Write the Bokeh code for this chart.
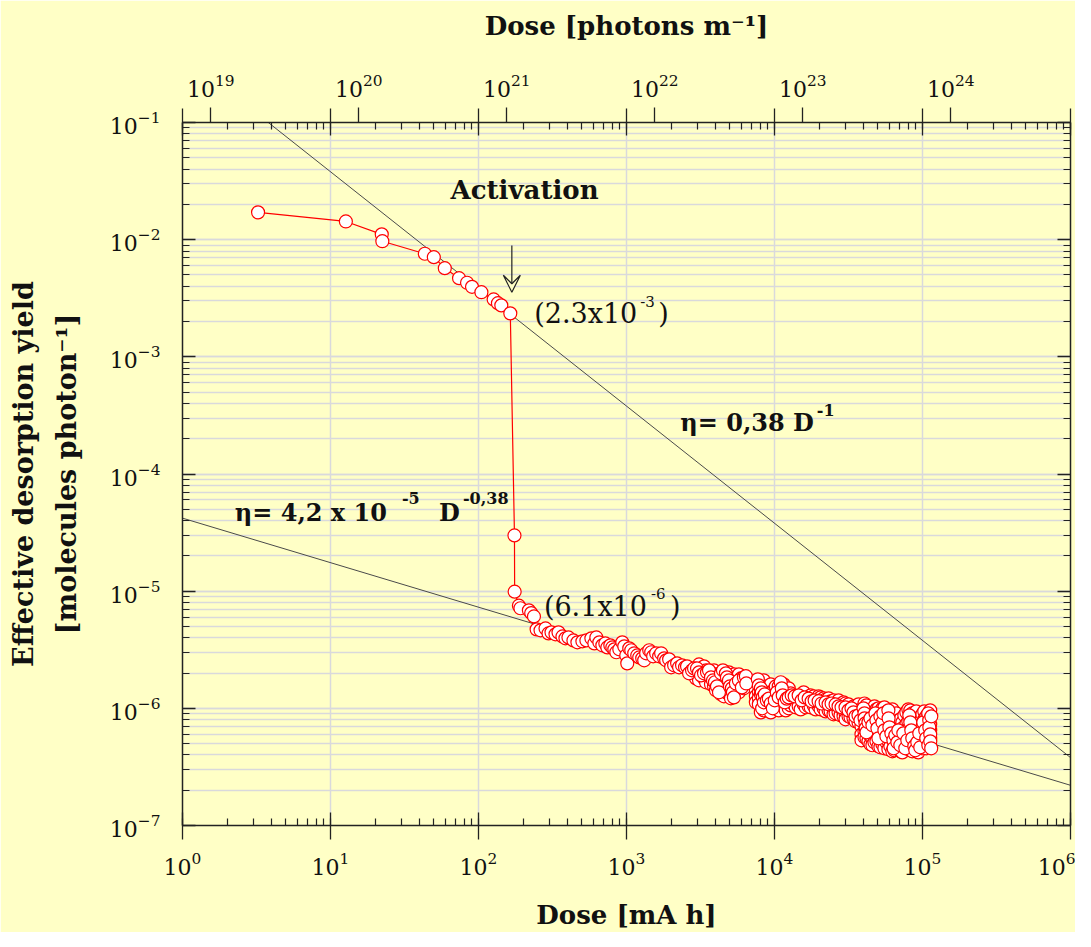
import math
from bokeh.plotting import figure
from bokeh.models import (LogAxis, LogTicker, Range1d, LogScale, Label, Arrow,
                          VeeHead, ColumnDataSource)
from bokeh.embed import file_html
from bokeh.resources import INLINE

# ---------------- data ----------------
# dose in mA h, effective desorption yield in molecules/photon
dose_before = [3.24, 12.7, 22.2, 22.4, 43.4, 49.9, 59.2, 73.9, 83.7, 90.4,
               104.6, 126.6, 135.3, 142.6, 164]
eta_before = [0.0171, 0.0143, 0.0111, 0.0097, 0.00758, 0.00709, 0.00571,
              0.00469, 0.00429, 0.00396, 0.00356, 0.00309, 0.00287, 0.00275,
              0.00235]

dose_after = [175, 175.5, 187.5, 192, 219, 227, 237,
              247, 262.5, 283.7, 297.2, 311.3, 331.3, 347.1, 369.2, 386.8, 405.3,
              437.9, 465.9, 503.5, 535.8, 578.9, 606.5, 625.6, 655.4, 686.8, 719.5,
              742.2, 777.5, 802, 827.3, 853.4, 894, 936.6, 966, 996.4, 1012,
              1044, 1077, 1128, 1182, 1219, 1277, 1317, 1358, 1424, 1469,
              1514, 1586, 1662, 1714, 1796, 1853, 1941, 2002, 2098, 2198,
              2267, 2374, 2487, 2566, 2647, 2772, 2860, 2996, 3091, 3188,
              3340, 3499, 3609, 3723, 3840, 3961, 4086, 4215, 4348, 4484,
              4697, 4770, 4921, 4998, 5155, 5236, 5318, 5486, 5747, 6020,
              6210, 6406, 6450,
              7715, 7836, 8083, 8209, 8250, 8338, 8468, 8600, 8870, 9150,
              9438, 9736, 10042, 10358, 10685, 11022, 11193, 11368, 11726, 12095,
              12477, 13069, 13692, 14569, 15262, 15990, 17013, 17822, 18671, 19866,
              20810, 22143, 23197, 24300, 25857, 27087, 28374, 30192, 31630, 33133,
              34179, 35256, 36934, 38097, 39911, 40534, 40600, 41168, 41300, 41808,
              43128, 44487, 45886, 48072, 48819, 49584, 50360, 51946, 53581, 54419,
              55268, 57007, 58806, 59000, 59723, 61600, 63545, 63800, 65547, 67610,
              68667, 70830, 74201, 76538, 78947, 81433, 82708, 83993, 85309, 87996,
              89373, 92186, 95089, 96577, 101174, 104361, 105983, 109329, 109500, 111035,
              111200, 112773, 112900, 114525, 114700]
eta_after = [2.99e-5, 9.9e-6, 7.52e-6, 7.15e-6, 6.86e-6, 6.50e-6, 6.09e-6,
             4.72e-6, 4.63e-6, 4.81e-6, 4.36e-6, 4.45e-6, 4.28e-6, 4.45e-6, 4.11e-6, 3.96e-6, 4.03e-6,
             3.80e-6, 3.66e-6, 3.73e-6, 3.80e-6, 3.96e-6, 3.58e-6, 4.03e-6, 3.66e-6, 3.45e-6, 3.58e-6,
             3.31e-6, 3.45e-6, 3.31e-6, 3.19e-6, 3.01e-6, 3.19e-6, 3.66e-6, 3.38e-6, 2.83e-6, 2.42e-6,
             3.25e-6, 3.13e-6, 2.95e-6, 2.83e-6, 2.72e-6, 2.67e-6, 2.57e-6, 2.95e-6, 3.13e-6, 3.01e-6,
             2.78e-6, 2.95e-6, 2.78e-6, 2.95e-6, 2.67e-6, 2.57e-6, 2.62e-6, 2.24e-6, 2.33e-6, 2.42e-6,
             2.24e-6, 2.33e-6, 2.24e-6, 2.28e-6, 1.99e-6, 2.11e-6, 2.19e-6, 2.19e-6, 2.03e-6, 1.91e-6,
             1.99e-6, 2.03e-6, 2.11e-6, 1.84e-6, 1.73e-6, 1.67e-6, 1.54e-6, 1.37e-6, 1.99e-6, 2.11e-6,
             1.99e-6, 1.84e-6, 1.73e-6, 1.54e-6, 1.48e-6, 1.37e-6, 1.24e-6, 1.63e-6, 1.73e-6, 1.51e-6,
             1.84e-6, 1.88e-6, 1.63e-6,
             1.77e-6, 1.57e-6, 1.48e-6, 1.37e-6, 1.00e-6, 1.24e-6, 1.125e-6, 1.317e-6, 1.17e-6, 1.21e-6,
             1.10e-6, 1.00e-6, 1.17e-6, 1.37e-6, 1.24e-6, 1.67e-6, 1.48e-6, 1.29e-6, 1.125e-6, 1.21e-6,
             1.24e-6, 1.29e-6, 1.266e-6, 1.29e-6, 1.17e-6, 1.24e-6, 1.21e-6, 1.147e-6, 1.17e-6, 1.15e-6,
             1.10e-6, 1.125e-6, 1.082e-6, 1.10e-6, 1.08e-6, 1.04e-6, 1.02e-6, 1.02e-6, 9.61e-7, 1.00e-6,
             9.24e-7, 8.55e-7, 8.72e-7, 7.90e-7, 1.00e-6, 9.07e-7, 8.22e-7, 7.45e-7, 6.75e-7, 6.24e-7,
             7.60e-7, 8.22e-7, 7.16e-7, 9.07e-7, 7.90e-7, 6.75e-7, 5.55e-7, 8.55e-7, 7.60e-7, 9.07e-7,
             6.49e-7, 5.77e-7, 9.61e-7, 8.22e-7, 6.89e-7, 6.12e-7, 5.34e-7, 4.56e-7, 5.89e-7, 5.13e-7,
             6.49e-7, 4.84e-7, 6.12e-7, 4.56e-7, 5.34e-7, 8.72e-7, 7.60e-7, 6.49e-7, 5.55e-7, 4.74e-7,
             4.38e-7, 5.13e-7, 6.12e-7, 4.65e-7, 7.60e-7, 6.49e-7, 5.55e-7, 9.07e-7, 4.84e-7, 7.90e-7,
             6.89e-7, 6.00e-7, 5.23e-7, 4.56e-7, 8.55e-7]

# further overlapping points of the dense cloud (one row per dose column)
dose_cloud = [
    2950, 2950,
    3091, 3091, 3091,
    3340, 3340,
    3445, 3445,
    3723, 3723,
    3900, 3900, 3900,
    4023, 4023,
    4215, 4215, 4215,
    4348, 4348, 4348,
    4554, 4554, 4554, 4554,
    4697, 4697, 4697,
    4921, 4921, 4921,
    5076, 5076, 5076,
    5318, 5318, 5318,
    5486, 5486,
    5747, 5747, 5747,
    5928, 5928,
    6210, 6210,
    7480, 7480, 7480, 7480,
    7836, 7836, 7836,
    8083, 8083, 8083,
    8468, 8468, 8468, 8468,
    8735, 8735, 8735,
    9150, 9150, 9150, 9150,
    9438, 9438, 9438,
    9888, 9888, 9888,
    10200, 10200, 10200,
    10685, 10685, 10685,
    11022, 11022,
    11546, 11546, 11546, 11546,
    11910, 11910,
    12477, 12477, 12477,
    12870, 12870,
    13482, 13482,
    13907, 13907,
    14569, 14569,
    15028, 15028,
    15744, 15744,
    16240, 16240,
    17013, 17013,
    17549, 17549,
    18384, 18384,
    18963, 18963,
    19866, 19866,
    20492, 20492,
    21467, 21467,
    22143, 22143,
    23197, 23197,
    23928, 23928,
    25067, 25067, 25067,
    25857, 25857,
    27087, 27087,
    27940, 27940,
    29270, 29270, 29270,
    30192, 30192, 30192,
    31630, 31630,
    32627, 32627,
    34179, 34179,
    35256, 35256, 35256,
    36934, 36934, 36934,
    38692, 38692, 38692, 38692,
    40534, 40534, 40534, 40534,
    41808, 41808, 41808,
    43128, 43128, 43128, 43128,
    44487, 44487, 44487, 44487,
    45886, 45886, 45886, 45886,
    47331, 47331, 47331, 47331,
    48819, 48819, 48819, 48819,
    50360, 50360, 50360, 50360,
    51946, 51946, 51946, 51946,
    53581, 53581, 53581, 53581,
    55268, 55268, 55268, 55268,
    57007, 57007, 57007, 57007,
    58806, 58806, 58806, 58806,
    60658, 60658, 60658, 60658,
    62566, 62566, 62566, 62566, 62566,
    64536, 64536, 64536, 64536, 64536,
    66566, 66566, 66566,
    68667, 68667, 68667,
    70830, 70830, 70830, 70830,
    73058, 73058, 73058, 73058,
    75358, 75358, 75358,
    77728, 77728, 77728, 77728,
    80182, 80182, 80182, 80182, 80182,
    82708, 82708, 82708, 82708, 82708,
    85309, 85309, 85309, 85309,
    87996, 87996, 87996, 87996,
    90763, 90763, 90763, 90763,
    93628, 93628, 93628, 93628,
    96577, 96577, 96577,
    99615, 99615, 99615, 99615, 99615,
    102752, 102752, 102752, 102752, 102752,
    105983, 105983, 105983, 105983, 105983,
    109329, 109329, 109329, 109329,
    109400, 109400, 109400, 109400,
    112773, 112773, 112773, 112773, 112773, 112773,
]
eta_cloud = [
    2.03e-6, 1.80e-6,
    2.37e-6, 1.88e-6, 1.734e-6,
    2.28e-6, 1.80e-6,
    2.11e-6, 1.667e-6,
    2.03e-6, 1.603e-6,
    2.11e-6, 1.88e-6, 1.541e-6,
    1.95e-6, 1.424e-6,
    1.88e-6, 1.667e-6, 1.482e-6,
    1.734e-6, 1.541e-6, 1.317e-6,
    1.88e-6, 1.667e-6, 1.424e-6, 1.266e-6,
    1.734e-6, 1.541e-6, 1.370e-6,
    2.03e-6, 1.482e-6, 1.317e-6,
    1.88e-6, 1.667e-6, 1.217e-6,
    1.95e-6, 1.734e-6, 1.541e-6,
    1.80e-6, 1.424e-6,
    1.95e-6, 1.541e-6, 1.370e-6,
    1.80e-6, 1.603e-6,
    1.667e-6, 1.482e-6,
    1.603e-6, 1.424e-6, 1.266e-6, 1.125e-6,
    1.370e-6, 1.217e-6, 1.082e-6,
    1.667e-6, 1.317e-6, 9.24e-7,
    1.734e-6, 1.541e-6, 1.040e-6, 9.61e-7,
    1.424e-6, 1.217e-6, 1.125e-6,
    1.482e-6, 1.317e-6, 1.082e-6, 1.000e-6,
    1.603e-6, 1.370e-6, 9.24e-7,
    1.424e-6, 1.266e-6, 1.125e-6,
    1.541e-6, 1.317e-6, 1.000e-6,
    1.541e-6, 1.082e-6, 9.61e-7,
    1.424e-6, 1.170e-6,
    1.603e-6, 1.424e-6, 1.217e-6, 1.040e-6,
    1.317e-6, 9.61e-7,
    1.482e-6, 1.125e-6, 1.000e-6,
    1.343e-6, 1.06e-6,
    1.170e-6, 1.082e-6,
    1.24e-6, 1.02e-6,
    1.170e-6, 1.040e-6,
    1.24e-6, 9.80e-7,
    1.370e-6, 1.082e-6,
    1.19e-6, 1.02e-6,
    1.125e-6, 1.040e-6,
    1.29e-6, 1.02e-6,
    1.266e-6, 1.06e-6,
    1.19e-6, 9.80e-7,
    1.266e-6, 1.040e-6,
    1.24e-6, 9.80e-7,
    1.217e-6, 1.000e-6,
    1.19e-6, 9.42e-7,
    1.217e-6, 9.61e-7,
    1.147e-6, 9.42e-7,
    1.170e-6, 1.000e-6, 8.89e-7,
    1.10e-6, 9.07e-7,
    1.170e-6, 9.24e-7,
    1.06e-6, 8.72e-7,
    1.125e-6, 9.24e-7, 8.55e-7,
    1.10e-6, 9.07e-7, 8.06e-7,
    1.082e-6, 8.55e-7,
    9.80e-7, 8.38e-7,
    1.040e-6, 8.22e-7,
    1.02e-6, 9.07e-7, 7.75e-7,
    1.082e-6, 9.61e-7, 7.60e-7,
    9.24e-7, 7.02e-7, 6.00e-7, 5.335e-7,
    1.10e-6, 8.06e-7, 6.36e-7, 5.66e-7,
    1.06e-6, 8.89e-7, 5.55e-7,
    9.07e-7, 7.16e-7, 6.12e-7, 5.23e-7,
    9.61e-7, 6.75e-7, 5.77e-7, 4.93e-7,
    9.42e-7, 8.06e-7, 5.44e-7, 4.84e-7,
    1.04e-6, 8.55e-7, 6.24e-7, 5.13e-7,
    9.80e-7, 8.38e-7, 6.12e-7, 5.23e-7,
    1.0e-6, 7.30e-7, 6.49e-7, 4.74e-7,
    9.42e-7, 7.75e-7, 5.66e-7, 4.65e-7,
    1.0e-6, 7.02e-7, 6.00e-7, 4.93e-7,
    1.02e-6, 8.38e-7, 5.44e-7, 4.56e-7,
    9.24e-7, 7.90e-7, 6.75e-7, 5.13e-7,
    7.16e-7, 6.12e-7, 5.23e-7, 4.47e-7,
    8.89e-7, 7.60e-7, 5.55e-7, 4.74e-7,
    9.80e-7, 8.06e-7, 6.62e-7, 5.89e-7, 4.30e-7,
    8.55e-7, 7.02e-7, 6.24e-7, 4.93e-7, 4.38e-7,
    9.07e-7, 7.45e-7, 5.23e-7,
    7.90e-7, 5.77e-7, 4.56e-7,
    8.06e-7, 6.89e-7, 5.89e-7, 4.30e-7,
    7.60e-7, 6.75e-7, 5.335e-7, 4.21e-7,
    8.72e-7, 6.36e-7, 4.65e-7,
    9.24e-7, 7.30e-7, 6.00e-7, 4.93e-7,
    9.80e-7, 7.75e-7, 6.62e-7, 5.44e-7, 4.65e-7,
    9.61e-7, 8.22e-7, 5.77e-7, 4.93e-7, 4.38e-7,
    9.07e-7, 7.75e-7, 4.84e-7, 4.30e-7,
    8.55e-7, 7.02e-7, 6.24e-7, 5.335e-7,
    9.42e-7, 7.45e-7, 6.12e-7, 4.84e-7,
    8.22e-7, 6.75e-7, 5.77e-7, 4.21e-7,
    8.38e-7, 6.89e-7, 5.44e-7,
    8.89e-7, 7.02e-7, 6.00e-7, 5.13e-7, 4.56e-7,
    9.42e-7, 8.06e-7, 6.62e-7, 5.66e-7, 4.84e-7,
    8.55e-7, 7.60e-7, 6.24e-7, 5.13e-7, 4.56e-7,
    8.89e-7, 7.60e-7, 6.49e-7, 5.335e-7,
    8.06e-7, 6.89e-7, 5.89e-7, 5.23e-7,
    9.61e-7, 8.55e-7, 7.30e-7, 6.49e-7, 5.55e-7, 4.74e-7,
]

# fitted power laws  eta = A * D**B
fit1_A, fit1_B = 0.38, -1.0
fit2_A, fit2_B = 4.2e-5, -0.38
fit_dose = [1.0, 1.0e6]

# conversion of the top axis: photons per metre per mA h
PHOTONS_PER_MAH = 6.44e18

x_min, x_max = 1.0, 1.0e6
y_min, y_max = 1.0e-7, 1.0e-1

BG = "#ffffc6"
GRID = "#d9d9dc"
AX = "#222222"
TXT = "#111111"
SERIF = "DejaVu Serif"

# ---------------- figure ----------------
p = figure(x_axis_type="log", y_axis_type="log",
           x_range=Range1d(x_min, x_max), y_range=Range1d(y_min, y_max),
           frame_width=888, frame_height=703,
           min_border_left=182, min_border_right=5,
           min_border_top=122, min_border_bottom=106,
           output_backend="svg", toolbar_location=None,
           background_fill_color=BG, border_fill_color=BG,
           outline_line_color=None, title_location=None)

tx = LogTicker(num_minor_ticks=10)
ty = LogTicker(num_minor_ticks=10)

ax_b = p.below[0]
ax_l = p.left[0]
ax_b.ticker = tx
ax_l.ticker = ty
p.xgrid.ticker = tx
p.ygrid.ticker = ty

p.xgrid.grid_line_color = GRID
p.xgrid.grid_line_width = 1.5
p.ygrid.grid_line_color = GRID
p.ygrid.grid_line_width = 1.5
p.ygrid.minor_grid_line_color = GRID
p.ygrid.minor_grid_line_width = 1.5


def style_ticks(ax, maj_in, maj_out, min_in, min_out):
    ax.axis_line_color = AX
    ax.axis_line_width = 1.5
    ax.major_tick_line_color = AX
    ax.major_tick_line_width = 1.3
    ax.minor_tick_line_color = AX
    ax.minor_tick_line_width = 1.2
    ax.major_tick_in = maj_in
    ax.major_tick_out = maj_out
    ax.minor_tick_in = min_in
    ax.minor_tick_out = min_out


def style_labels(ax, standoff):
    ax.major_label_text_font = SERIF
    ax.major_label_text_font_size = "22px"
    ax.major_label_text_color = TXT
    ax.major_label_standoff = standoff


def style_title(ax, text, standoff, size):
    ax.axis_label = text
    ax.axis_label_text_font = SERIF
    ax.axis_label_text_font_style = "bold"
    ax.axis_label_text_font_size = size
    ax.axis_label_text_color = TXT
    ax.axis_label_standoff = standoff


# bottom axis (mA h)
style_ticks(ax_b, 13, 14, 7, 0)
style_labels(ax_b, 12)
style_title(ax_b, "Dose [mA h]", 22, "26px")

# left axis (second line of the y title)
style_ticks(ax_l, 13, 0, 7, 0)
style_labels(ax_l, 22)
style_title(ax_l, "[molecules photon\u207b\u00b9]", 25, "27px")

# outer left axis carrying the first line of the y title
ax_l2 = LogAxis(ticker=LogTicker(num_minor_ticks=10))
style_ticks(ax_l2, 0, 0, 0, 0)
ax_l2.axis_line_color = None
ax_l2.major_tick_line_color = None
ax_l2.minor_tick_line_color = None
ax_l2.major_label_text_color = None
style_title(ax_l2, "Effective desorption yield", 9, "27px")
p.add_layout(ax_l2, "left")

# right axis: ticks only
ax_r = LogAxis(ticker=LogTicker(num_minor_ticks=10))
style_ticks(ax_r, 13, 0, 7, 0)
ax_r.major_label_text_color = None
p.add_layout(ax_r, "right")

# top: mirrored mA h ticks (adjacent to frame)
ax_t = LogAxis(ticker=LogTicker(num_minor_ticks=10))
style_ticks(ax_t, 13, 14, 7, 0)
ax_t.major_label_text_color = None
p.add_layout(ax_t, "above")

# top: photons per metre axis
p.extra_x_ranges = {"photon": Range1d(x_min * PHOTONS_PER_MAH, x_max * PHOTONS_PER_MAH)}
p.extra_x_scales = {"photon": LogScale()}
ax_ph = LogAxis(x_range_name="photon", ticker=LogTicker(num_minor_ticks=10))
style_ticks(ax_ph, 14, 1, 0, 0)
ax_ph.axis_line_color = None
ax_ph.minor_tick_line_color = None
style_labels(ax_ph, 11)
style_title(ax_ph, "Dose [photons m\u207b\u00b9]", 30, "26px")
p.add_layout(ax_ph, "above")

# ---------------- fits ----------------
fit1 = [fit1_A * d ** fit1_B for d in fit_dose]
fit2 = [fit2_A * d ** fit2_B for d in fit_dose]
p.line(fit_dose, fit1, line_color="#4a4a4a", line_width=1)
p.line(fit_dose, fit2, line_color="#4a4a4a", line_width=1)

# ---------------- data ----------------
dose_seq = dose_before + dose_after
eta_seq = eta_before + eta_after
src = ColumnDataSource(dict(dose=dose_seq, eta=eta_seq))
cloud = ColumnDataSource(dict(dose=dose_cloud, eta=eta_cloud))
p.line("dose", "eta", source=src, line_color="#ff0000", line_width=1.2)
p.scatter("dose", "eta", source=cloud, marker="circle", size=13,
          line_color="#ff0000", line_width=1.2, fill_color="white")
p.scatter("dose", "eta", source=src, marker="circle", size=13,
          line_color="#ff0000", line_width=1.2, fill_color="white")

# ---------------- annotations ----------------
def lab(x, y, text, size, bold=False, align="left", dx=0, dy=0):
    p.add_layout(Label(x=x, y=y, text=text, x_offset=dx, y_offset=dy,
                       text_font=SERIF, text_font_size=size,
                       text_font_style="bold" if bold else "normal",
                       text_color=TXT, text_align=align,
                       text_baseline="middle"))

lab(204.8, 0.0268, "Activation", "26px", bold=True, align="center")
p.add_layout(Arrow(x_start=168, y_start=8.9e-3, x_end=168, y_end=3.56e-3,
                   line_color=AX, line_width=1.2,
                   end=VeeHead(size=17, fill_color=BG, line_color=AX,
                               line_width=1.2)))

# (2.3x10^-3)
lab(1182, 2.346e-3, "(2.3x10", "27px", align="right")
lab(1182, 2.346e-3, "-3", "15px", dx=3, dy=12)
lab(1182, 2.346e-3, ")", "27px", dx=21)

# (6.1x10^-6)
lab(1375, 7.42e-6, "(6.1x10", "27px", align="right")
lab(1375, 7.42e-6, "-6", "15px", dx=4, dy=13)
lab(1375, 7.42e-6, ")", "27px", dx=23)

# eta = 0,38 D^-1
lab(18431, 2.756e-4, "\u03b7= 0,38 D", "24px", bold=True, align="right")
lab(18431, 2.756e-4, "-1", "16px", bold=True, dx=3, dy=12)

# eta = 4,2 x 10^-5 D^-0,38
lab(24.06, 4.70e-5, "\u03b7= 4,2 x 10", "24px", bold=True, align="right")
lab(24.06, 4.70e-5, "-5", "16px", bold=True, dx=15, dy=14)
lab(24.06, 4.70e-5, "D", "24px", bold=True, align="right", dx=73)
lab(24.06, 4.70e-5, "-0,38", "16px", bold=True, dx=76, dy=14)

open("out.html", "w").write(file_html(p, INLINE))
